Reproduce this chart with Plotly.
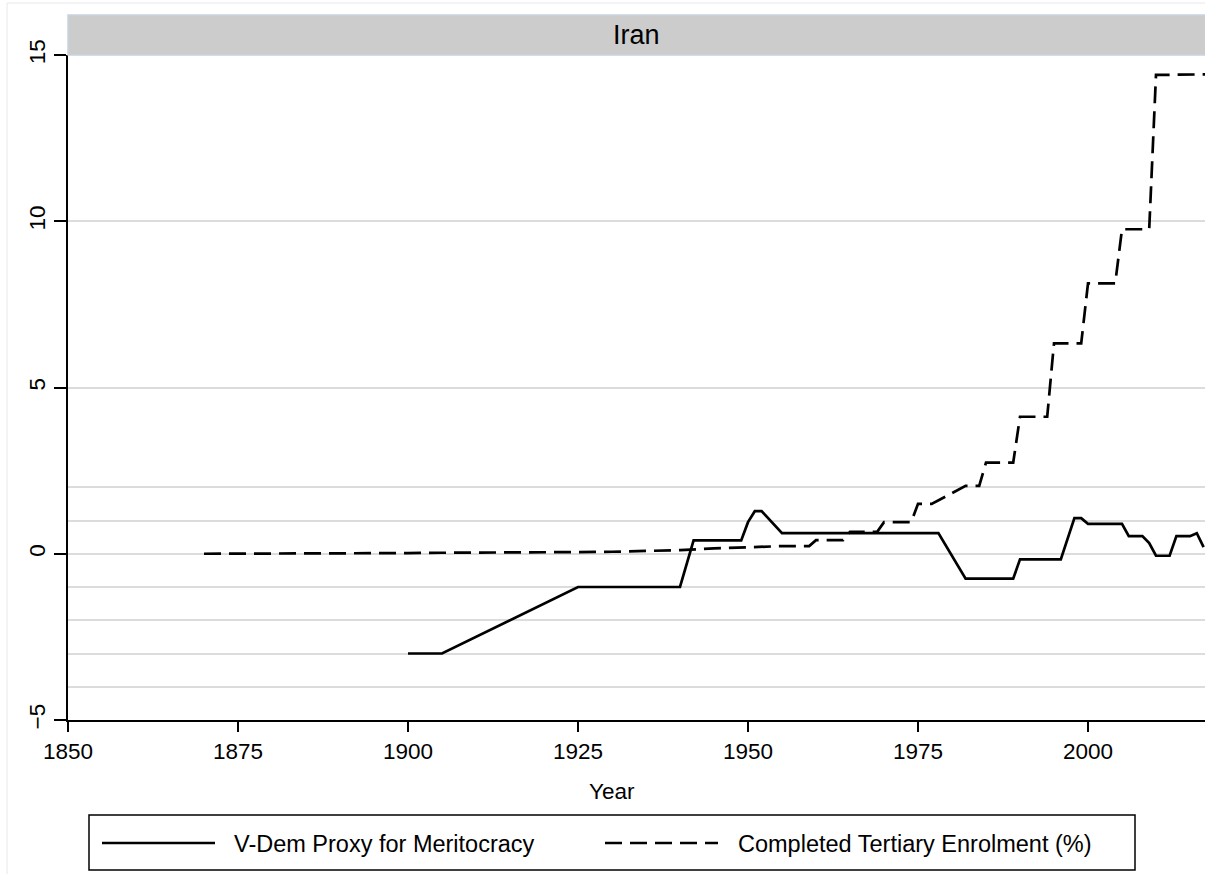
import plotly.graph_objects as go

# ---- data ----
merit_years = [1900, 1905, 1925, 1940, 1942, 1949, 1950, 1951, 1952, 1955, 1978, 1982,
               1989, 1990, 1996, 1998, 1999, 2000, 2005, 2006, 2008, 2009, 2010, 2012,
               2013, 2015, 2016, 2017]
merit_vals = [-3.0, -3.0, -1.0, -1.0, 0.40, 0.40, 0.95, 1.28, 1.28, 0.62, 0.62, -0.75,
              -0.75, -0.17, -0.17, 1.07, 1.07, 0.90, 0.90, 0.53, 0.53, 0.32, -0.06, -0.06,
              0.53, 0.53, 0.62, 0.20]

tert_years = [1870, 1880, 1890, 1900, 1905, 1910, 1915, 1920, 1925, 1930, 1935, 1940,
              1945, 1950, 1955, 1959, 1960, 1964, 1965, 1969, 1970, 1974, 1975, 1977,
              1982, 1984, 1985, 1989, 1990, 1994, 1995, 1999, 2000, 2004, 2005, 2009,
              2010, 2018]
tert_vals = [0.00, 0.00, 0.01, 0.02, 0.03, 0.03, 0.04, 0.04, 0.05, 0.06, 0.08, 0.11,
             0.16, 0.19, 0.23, 0.23, 0.41, 0.41, 0.66, 0.66, 0.95, 0.95, 1.50, 1.50,
             2.04, 2.04, 2.74, 2.74, 4.12, 4.12, 6.33, 6.33, 8.13, 8.13, 9.76, 9.76,
             14.40, 14.42]

x_ticks = [1850, 1875, 1900, 1925, 1950, 1975, 2000]
y_ticks = [-5, 0, 5, 10, 15]
y_minor_grid = [-4, -3, -2, -1, 1, 2]

panel_title = "Iran"
x_title = "Year"
name_merit = "V-Dem Proxy for Meritocracy"
name_tert = "Completed Tertiary Enrolment (%)"

FONT = "Liberation Sans, Arial, Helvetica, sans-serif"
W, H = 1205, 874
L, T = 68, 55
PW, PH = 1137, 665
R = W - L - PW
B = H - T - PH


def px(xs):
    """page x (px) -> paper x"""
    return (xs - L) / PW


def py(ys):
    """page y (px) -> paper y"""
    return (T + PH - ys) / PH


DASH = "17px,8px"

fig = go.Figure()
fig.add_trace(go.Scatter(x=merit_years, y=merit_vals, mode="lines", name=name_merit,
                         line=dict(color="black", width=2.7), showlegend=False))
fig.add_trace(go.Scatter(x=tert_years, y=tert_vals, mode="lines", name=name_tert,
                         line=dict(color="black", width=2.7, dash=DASH), showlegend=False))

shapes = []
# faint outer frame
shapes.append(dict(type="rect", xref="paper", yref="paper", x0=px(7), x1=px(1215),
                   y0=py(884), y1=py(3), line=dict(color="#e8e8e8", width=1),
                   fillcolor="rgba(0,0,0,0)", layer="below"))
# title strip
shapes.append(dict(type="rect", xref="paper", yref="paper", x0=0, x1=px(1215),
                   y0=py(55), y1=py(15), fillcolor="#cccccc",
                   line=dict(color="#c7d3df", width=1.5)))
# legend box
shapes.append(dict(type="rect", xref="paper", yref="paper", x0=px(89), x1=px(1135),
                   y0=py(870), y1=py(815), line=dict(color="black", width=1.5),
                   fillcolor="white"))
shapes.append(dict(type="line", xref="paper", yref="paper", x0=px(102), x1=px(215),
                   y0=py(843), y1=py(843), line=dict(color="black", width=2.7)))
shapes.append(dict(type="line", xref="paper", yref="paper", x0=px(605), x1=px(718),
                   y0=py(843), y1=py(843), line=dict(color="black", width=2.7, dash=DASH)))

annotations = [
    dict(text=panel_title, xref="paper", yref="paper", x=px(636.5), y=py(35),
         showarrow=False, xanchor="center", yanchor="middle",
         font=dict(family=FONT, size=27, color="black")),
    dict(text=name_merit, xref="paper", yref="paper", x=px(232), y=py(844),
         showarrow=False, xanchor="left", yanchor="middle",
         font=dict(family=FONT, size=23.5, color="black")),
    dict(text=name_tert, xref="paper", yref="paper", x=px(736), y=py(844),
         showarrow=False, xanchor="left", yanchor="middle",
         font=dict(family=FONT, size=23.5, color="black")),
    dict(text=x_title, xref="paper", yref="paper", x=px(612), y=py(791),
         showarrow=False, xanchor="center", yanchor="middle",
         font=dict(family=FONT, size=22.5, color="black")),
]

fig.update_layout(
    width=W, height=H,
    margin=dict(l=L, r=R, t=T, b=B, pad=0),
    paper_bgcolor="white", plot_bgcolor="white",
    font=dict(family=FONT, size=22.5, color="black"),
    shapes=shapes, annotations=annotations,
    showlegend=False,
    xaxis=dict(range=[1850, 1850 + PW / 6.8], tickvals=x_ticks, ticks="outside",
               ticklen=10, tickwidth=1.5, tickcolor="black", showline=True,
               linecolor="black", linewidth=1.5, showgrid=False, zeroline=False,
               tickfont=dict(family=FONT, size=22.5), fixedrange=True),
    yaxis=dict(range=[-5, 15], tickvals=y_ticks, ticks="outside", ticklen=12,
               tickwidth=1.5, tickcolor="black", tickangle=-90, showline=True,
               linecolor="black", linewidth=1.5, showgrid=True, gridcolor="#dcdcdc",
               gridwidth=2, zeroline=False, tickfont=dict(family=FONT, size=22.5),
               minor=dict(tickvals=y_minor_grid, showgrid=True, gridcolor="#dcdcdc",
                          gridwidth=2, ticks=""),
               fixedrange=True),
)

# remove the browser's default 8px page margin so the figure fills the window exactly
page_fix = ("document.body.style.margin='0';document.body.style.padding='0';"
            "document.documentElement.style.overflow='hidden';")

fig.write_html("out.html", post_script=page_fix, config={"displayModeBar": False})
